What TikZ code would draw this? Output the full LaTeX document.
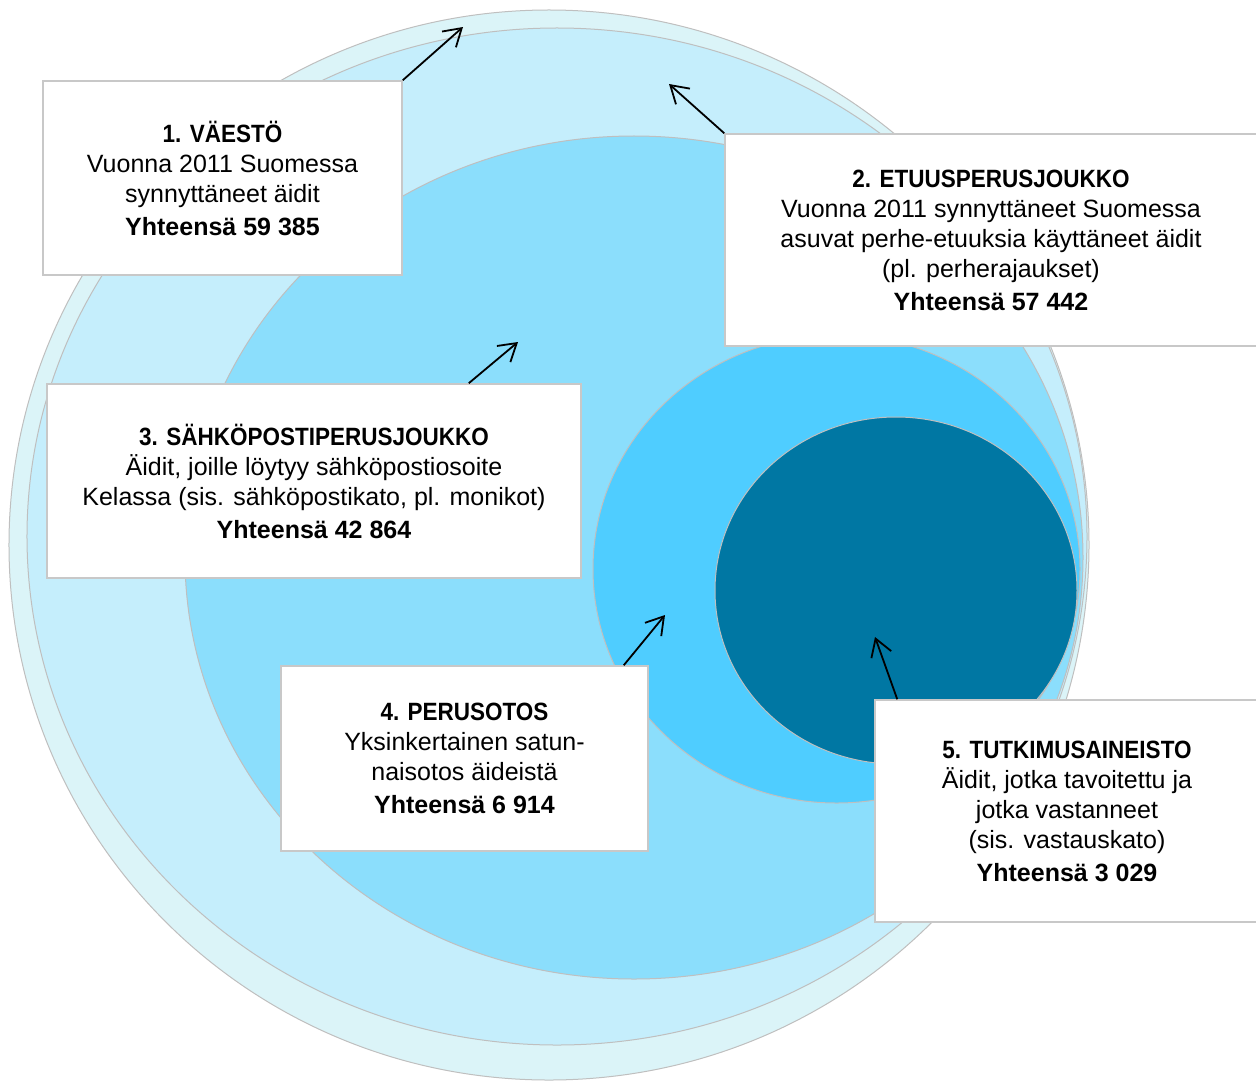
\documentclass[tikz,border=0pt]{standalone}
\usepackage{fontspec}
\setmainfont{Liberation Sans}
\newfontfamily\headfont{Liberation Sans}[FakeStretch=0.9]
\usetikzlibrary{
    arrows.meta,
    positioning
}
\definecolor{ring1}{HTML}{DBF4F8}
\definecolor{ring2}{HTML}{C5EEFC}
\definecolor{ring3}{HTML}{8BDEFC}
\definecolor{ring4}{HTML}{4FCDFF}
\definecolor{ring5}{HTML}{0077A3}
\definecolor{ringline}{HTML}{BFBFBF}
\definecolor{boxline}{HTML}{C8C8C8}
\tikzset{
    ring/.style = {
        draw=ringline,
        line width=1bp
    },
    infobox/.style = {
        draw=boxline,
        line width=1.5bp,
        fill=white,
        align=center,
        inner sep=0pt,
        font=\fontsize{25bp}{30bp}\selectfont
    },
    pointer/.style = {
        -{Straight Barb[length=17bp, width=21bp]},
        line width=1.8bp
    }
}
\newcommand{\otsikko}[1]{{\headfont\bfseries #1}}
\newcommand{\yhteensa}[1]{{\bfseries Yhteensä #1}}

\begin{document}
\begin{tikzpicture}[x=1bp, y=-1bp]
        \useasboundingbox (0,0) rectangle (1256,1081);
        \clip (0,0) rectangle (1256,1081);

        \filldraw[ring, fill=ring1] (549,545) ellipse [x radius=540bp, y radius=535bp];
        \filldraw[ring, fill=ring2] (557,536.5) ellipse [x radius=530bp, y radius=508.5bp];
        \filldraw[ring, fill=ring3] (634,557.5) ellipse [x radius=449bp, y radius=421.5bp];
        \filldraw[ring, fill=ring4] (836.5,569) ellipse [x radius=243.5bp, y radius=234bp];
        \filldraw[ring, fill=ring5] (896,590.5) ellipse [x radius=181bp, y radius=173.5bp];

        \node[infobox, minimum width=359bp, minimum height=194bp] (vaesto) at (222.5,178)
            {\otsikko{1. VÄESTÖ}\\ Vuonna 2011 Suomessa\\ synnyttäneet äidit\\[3bp] \yhteensa{59 385}};
        \node[infobox, minimum width=532bp, minimum height=212bp] (etuus) at (991,240)
            {\otsikko{2. ETUUSPERUSJOUKKO}\\ Vuonna 2011 synnyttäneet Suomessa\\ asuvat perhe-etuuksia käyttäneet äidit\\ (pl. perherajaukset)\\[3bp] \yhteensa{57 442}};
        \node[infobox, minimum width=534bp, minimum height=194bp] (sposti) at (314,481)
            {\otsikko{3. SÄHKÖPOSTIPERUSJOUKKO}\\ Äidit, joille löytyy sähköpostiosoite\\ Kelassa (sis. sähköpostikato, pl. monikot)\\[3bp] \yhteensa{42 864}};
        \node[infobox, minimum width=367bp, minimum height=185bp] (otos) at (464.5,758.5)
            {\otsikko{4. PERUSOTOS}\\ Yksinkertainen satun-\\ naisotos äideistä\\[3bp] \yhteensa{6 914}};
        \node[infobox, minimum width=384bp, minimum height=222bp] (aineisto) at (1067,811)
            {\otsikko{5. TUTKIMUSAINEISTO}\\ Äidit, jotka tavoitettu ja\\ jotka vastanneet\\ (sis. vastauskato)\\[3bp] \yhteensa{3 029}};

        \coordinate (vaesto tip) at (463,27);
        \coordinate (etuus tip) at (669,84);
        \coordinate (sposti tip) at (518,342);
        \coordinate (otos tip) at (665,615);
        \coordinate (aineisto tip) at (875,637);

        \draw[pointer] (vaesto.north east) -- (vaesto tip);
        \draw[pointer] (etuus.north west) -- (etuus tip);
        \draw[pointer] ([xshift=-113bp]sposti.north east) -- (sposti tip);
        \draw[pointer] ([xshift=-25bp]otos.north east) -- (otos tip);
        \draw[pointer] ([xshift=23bp]aineisto.north west) -- (aineisto tip);
    \end{tikzpicture}
\end{document}
